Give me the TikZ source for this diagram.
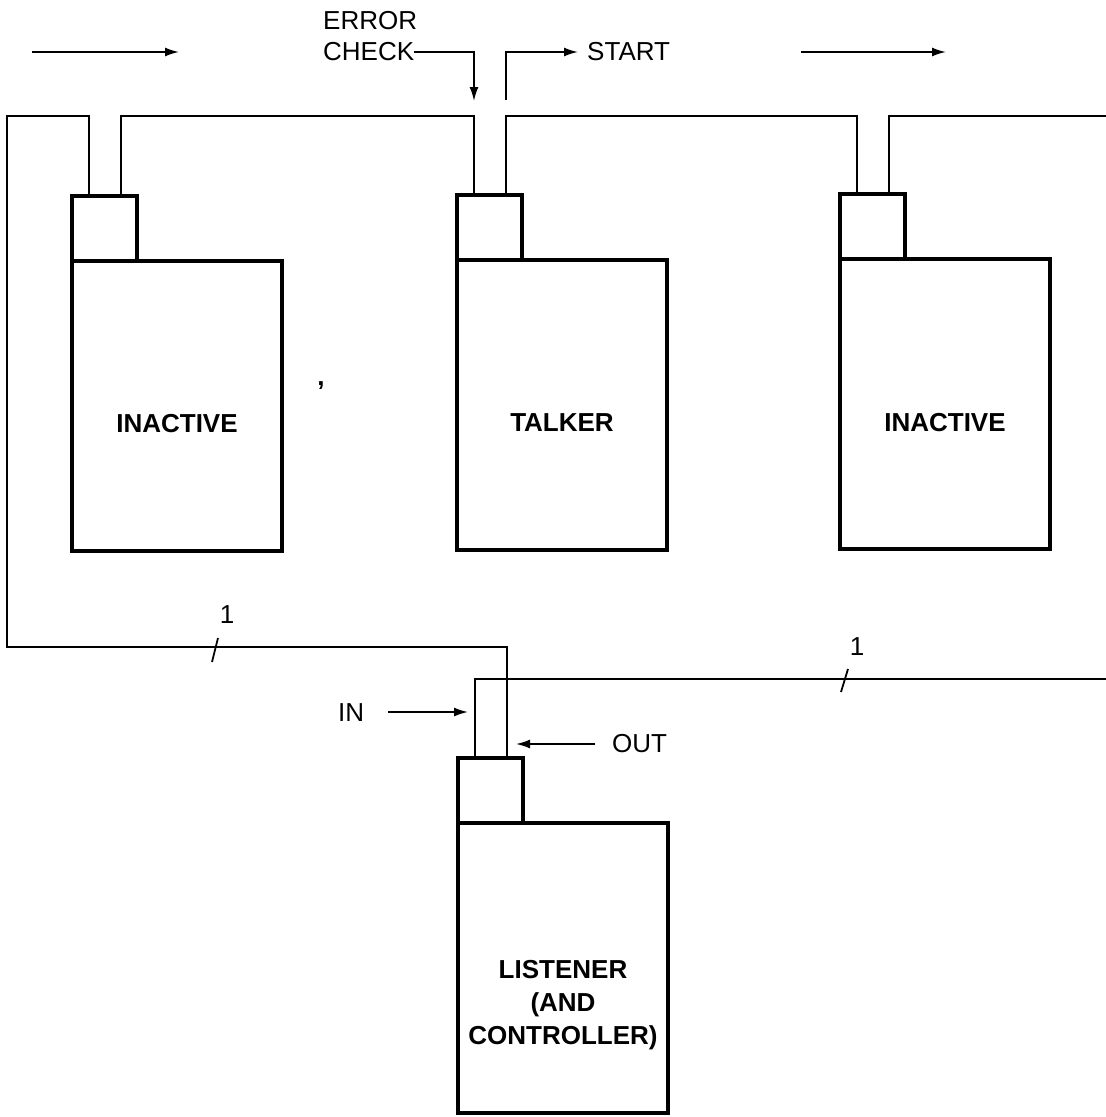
\documentclass[tikz,border=0pt]{standalone}
\usepackage{fontspec}
\setmainfont{Liberation Sans}
\usetikzlibrary{arrows.meta,calc}
\begin{document}
\begin{tikzpicture}[x=1pt,y=-1pt,
  bigbox/.style={draw,line width=3.2pt,minimum width=210pt,minimum height=290pt,outer sep=0pt,inner sep=0pt,anchor=north west},
  smallbox/.style={draw,line width=3.2pt,minimum width=65pt,minimum height=65pt,outer sep=0pt,inner sep=0pt,anchor=south west},
  bus/.style={line width=1.8pt},
  sig/.style={line width=1.7pt,-{Latex[length=14pt,width=9pt]}},
  lbl/.style={font=\fontsize{26}{33}\selectfont\bfseries,align=center,inner sep=0pt},
  txt/.style={font=\fontsize{26}{30}\selectfont,inner sep=0pt},
  tick/.style={line width=1.8pt}]
\useasboundingbox (0,0) rectangle (1106,1117);

% devices
\node[bigbox,label={[lbl,yshift=-18pt]center:INACTIVE}] (d1) at (72,261) {};
\node[smallbox] (c1) at (d1.north west) {};
\node[bigbox,label={[lbl,yshift=-18pt]center:TALKER}] (d2) at (457,260) {};
\node[smallbox] (c2) at (d2.north west) {};
\node[bigbox,label={[lbl,yshift=-19pt]center:INACTIVE}] (d3) at (840,259) {};
\node[smallbox] (c3) at (d3.north west) {};
\node[bigbox,label={[lbl,yshift=-37pt]center:{LISTENER\\(AND\\CONTROLLER)}}] (d4) at (458,823) {};
\node[smallbox] (c4) at (d4.north west) {};

% rail points
\foreach \i in {1,2,3,4}{
  \coordinate (c\i a) at ($(c\i.north west)+(17,0)$);
  \coordinate (c\i b) at ($(c\i.north west)+(49,0)$);
}
\coordinate (topy) at (0,116);
\coordinate (lowa) at (0,647);
\coordinate (lowb) at (0,679);
\coordinate (leftcornerT) at (7,116);
\coordinate (leftcornerB) at (7,647);
\coordinate (rightendT) at (1106,116);
\coordinate (rightendB) at (1106,679);

% bus lines
\draw[bus] (c1a) -- (c1a |- topy) -- (leftcornerT) -- (leftcornerB) -- (c4b |- lowa) -- (c4b);
\draw[bus] (c1b) -- (c1b |- topy) -- (c2a |- topy) -- (c2a);
\draw[bus] (c2b) -- (c2b |- topy) -- (c3a |- topy) -- (c3a);
\draw[bus] (c3b) -- (c3b |- topy) -- (rightendT);
\draw[bus] (c4a) -- (c4a |- lowb) -- (rightendB);

% ticks
\draw[tick] (212,662) -- (218,638);
\node[txt] (n1) at (227,615) {1};
\draw[tick] (841,692) -- (848,669);
\node[txt] (n2) at (857,647) {1};

% flow arrows
\coordinate (la0) at (32,52);
\coordinate (la1) at (179,52);
\draw[sig] (la0) -- (la1);
\coordinate (ra0) at (801,52);
\coordinate (ra1) at (946,52);
\draw[sig] (ra0) -- (ra1);

% error check / start
\node[txt,anchor=west] (err) at (323,21) {ERROR};
\node[txt,anchor=west] (chk) at (323,52) {CHECK};
\coordinate (errtip) at (474,101);
\draw[sig] (chk.east) -| (errtip);
\node[txt,anchor=west] (start) at (587,52) {START};
\coordinate (startfoot) at (506,100);
\draw[sig] (startfoot) |- ([xshift=-9pt]start.west);

% in / out
\node[txt,anchor=west] (in) at (338,713) {IN};
\coordinate (intail) at (388,712);
\coordinate (intip) at (468,712);
\draw[sig] (intail) -- (intip);
\node[txt,anchor=west] (out) at (612,744) {OUT};
\coordinate (outtip) at (516,744);
\draw[sig] ([xshift=-17pt]out.west) -- (outtip);

% stray mark
\node[txt,font=\fontsize{26}{30}\selectfont\bfseries] (comma) at (321,386) {,};
\end{tikzpicture}
\end{document}
